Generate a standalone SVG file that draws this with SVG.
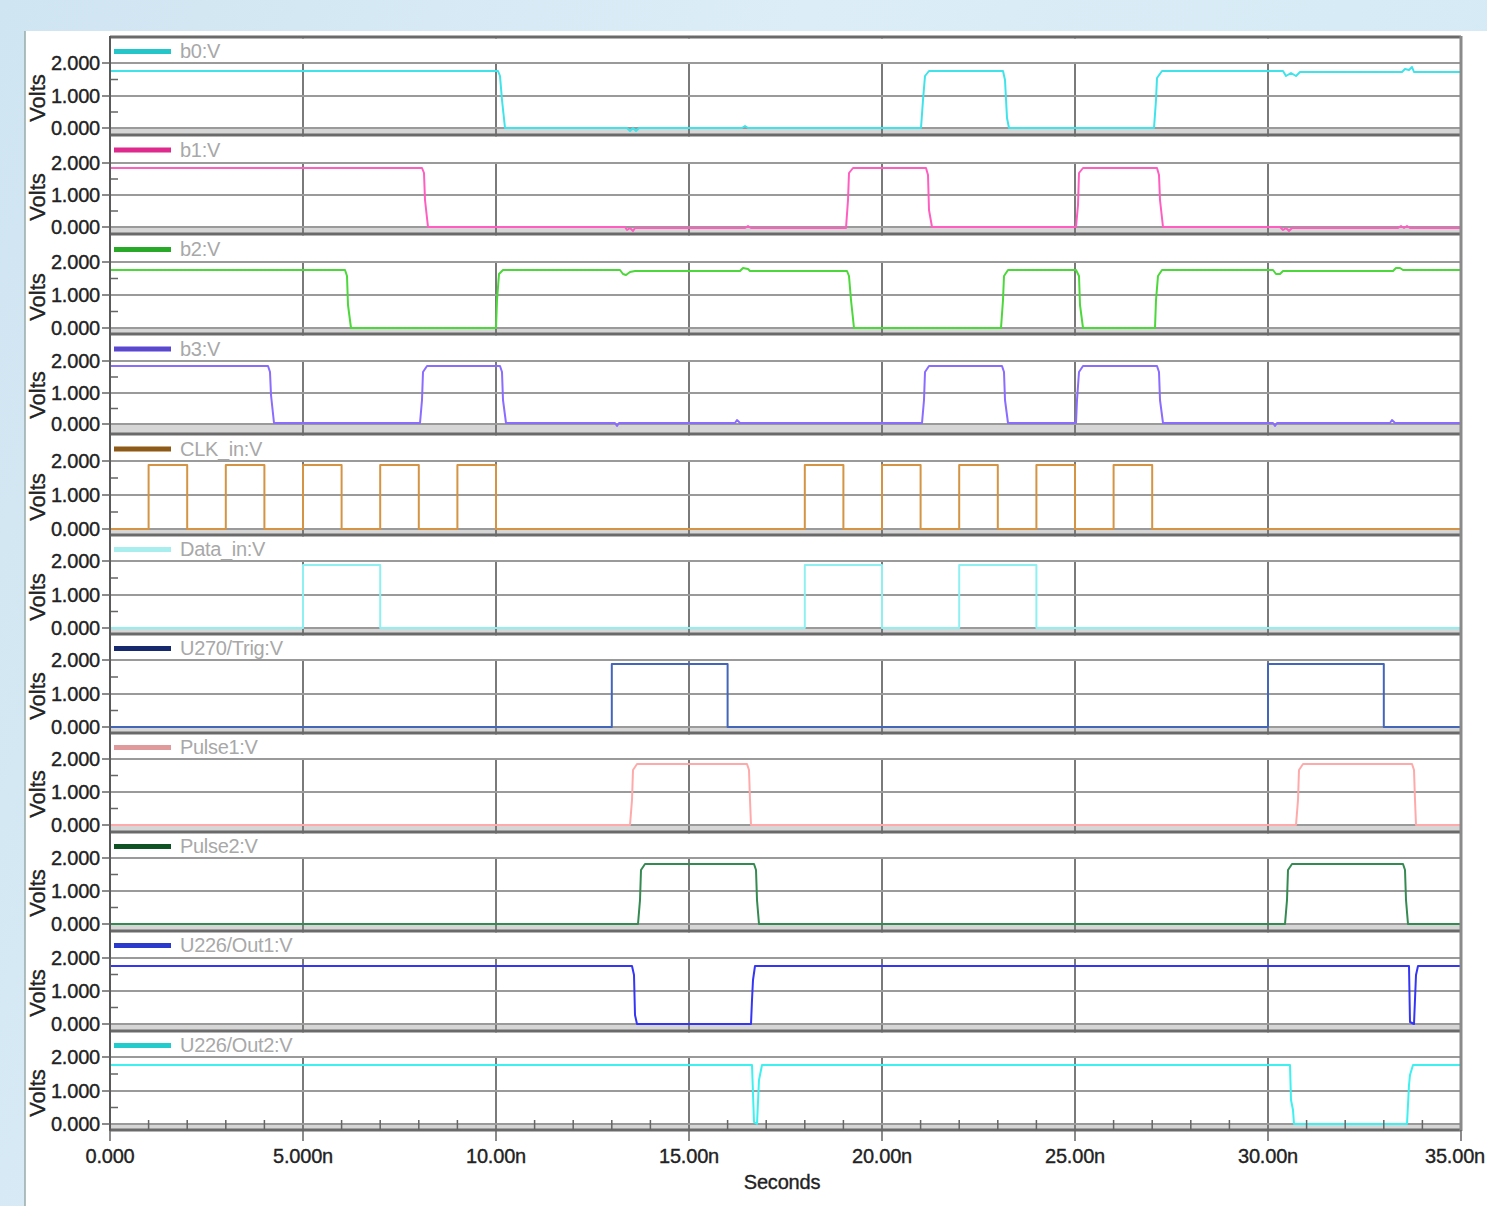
<svg xmlns="http://www.w3.org/2000/svg" width="1487" height="1206" viewBox="0 0 1487 1206">
<defs>
<linearGradient id="bg" x1="0" y1="0" x2="1" y2="0.3">
<stop offset="0" stop-color="#cfe5f1"/>
<stop offset="0.5" stop-color="#dcedf7"/>
<stop offset="1" stop-color="#d4eaf5"/>
</linearGradient>
</defs>
<style>
.grid{stroke:#9a9a9a;stroke-width:2;fill:none}
.vgrid{stroke:#7a7a7a;stroke-width:2;fill:none}
.sep{stroke:#6a6a6a;stroke-width:3;fill:none}
.band{fill:#d6d6d6}
.tick{stroke:#666;stroke-width:1.5;fill:none}
.tr{fill:none;stroke-width:2;stroke-linejoin:round}
.lg{stroke-width:5;fill:none}
.lgt{font-family:"Liberation Sans",Arial,sans-serif;font-size:20px;fill:#a8a8a8;letter-spacing:-0.3px}
.yl{font-family:"Liberation Sans",Arial,sans-serif;font-size:20px;fill:#222;stroke:#222;stroke-width:0.35px;text-anchor:end;letter-spacing:-0.2px}
.xl{font-family:"Liberation Sans",Arial,sans-serif;font-size:20px;fill:#222;stroke:#222;stroke-width:0.35px;text-anchor:middle;letter-spacing:-0.2px}
.vl{font-family:"Liberation Sans",Arial,sans-serif;font-size:22px;fill:#222;stroke:#222;stroke-width:0.35px;text-anchor:middle}
</style>
<rect x="0" y="0" width="1487" height="1206" fill="url(#bg)"/>
<rect x="25" y="31" width="1462" height="1175" fill="#ffffff"/>
<line x1="25" y1="31" x2="25" y2="1206" stroke="#9aa" stroke-width="1.5"/>

<g id="bands">
<rect class="band" x="110" y="129" width="1351" height="5"/>
<rect class="band" x="110" y="228" width="1351" height="5"/>
<rect class="band" x="110" y="329" width="1351" height="4"/>
<rect class="band" x="110" y="425" width="1351" height="8"/>
<rect class="band" x="110" y="530" width="1351" height="4"/>
<rect class="band" x="110" y="629" width="1351" height="4"/>
<rect class="band" x="110" y="728" width="1351" height="4"/>
<rect class="band" x="110" y="826" width="1351" height="5"/>
<rect class="band" x="110" y="925" width="1351" height="5"/>
<rect class="band" x="110" y="1025" width="1351" height="5"/>
<rect class="band" x="110" y="1125" width="1351" height="4"/>
</g>

<g id="vertical-grid">
<path class="vgrid" d="M303,37V1131M496,37V1131M689,37V1131M882,37V1131M1075,37V1131M1268,37V1131"/>
</g>

<g id="legend-areas" fill="#ffffff">
<rect x="111" y="38.5" width="1349" height="23.5"/>
<rect x="111" y="136.5" width="1349" height="25.5"/>
<rect x="111" y="235.5" width="1349" height="25.5"/>
<rect x="111" y="335.5" width="1349" height="24.5"/>
<rect x="111" y="435.5" width="1349" height="24.5"/>
<rect x="111" y="536.5" width="1349" height="23.5"/>
<rect x="111" y="635.5" width="1349" height="23.5"/>
<rect x="111" y="734.5" width="1349" height="23.5"/>
<rect x="111" y="833.5" width="1349" height="23.5"/>
<rect x="111" y="932.5" width="1349" height="24.5"/>
<rect x="111" y="1032.5" width="1349" height="23.5"/>
</g>

<g id="horizontal-grid">
<path class="grid" d="M110,63H1461M110,96H1461M110,128H1461
M110,163H1461M110,195H1461M110,227H1461
M110,262H1461M110,295H1461M110,328H1461
M110,361H1461M110,393H1461M110,424H1461
M110,461H1461M110,495H1461M110,529H1461
M110,561H1461M110,595H1461M110,628H1461
M110,660H1461M110,694H1461M110,727H1461
M110,759H1461M110,792H1461M110,825H1461
M110,858H1461M110,891H1461M110,924H1461
M110,958H1461M110,991H1461M110,1024H1461
M110,1057H1461M110,1091H1461M110,1124H1461"/>
</g>

<g id="traces">
<path id="b0" class="tr" stroke="#3fe3ea" d="M110,71H498L500,76L502,100L505,128H627l3,3l3,-3l3,3l3,-3H742l3,-2l3,2H921L923,100L925,76L929,71H1003L1005,80L1007,118L1009,128H1154L1156,100L1157,78L1162,71H1283l3,5l5,-3l5,3l4,-4H1402l3,-3l4,1l3,-3l2,5H1461"/>
<path id="b1" class="tr" stroke="#ff5ec0" d="M110,168H422L424,173L425,200L428,227H625l2,3l3,-2l3,3l2,-3H745l3,-2l3,2H846L848,200L849,173L853,168H926L928,175L929,210L932,227H1076L1078,205L1079,173L1083,168H1157L1159,175L1160,200L1163,227H1280l3,3l3,-2l3,3l3,-3H1398l3,-2l3,2l3,-2l3,2H1461"/>
<path id="b2" class="tr" stroke="#4cd83a" d="M110,270H345L347,276L348,305L351,328H496L497,300L499,274L503,270H620l3,4l3,1l4,-3l5,-1H740l3,-3l5,1l2,2H847L849,276L851,300L854,328H1001L1003,300L1004,276L1008,270H1076L1079,276L1080,305L1083,328H1155L1156,300L1158,276L1162,270H1273l3,4l4,0l3,-3H1393l3,-3l4,0l3,2H1461"/>
<path id="b3" class="tr" stroke="#8a6cff" d="M110,366H268L270,372L271,395L274,423H420L422,400L423,372L427,366H500L502,372L503,400L506,423H615l2,3l2,-3H735l2,-3l3,3H922L924,400L925,372L929,366H1002L1004,372L1005,400L1008,423H1076L1077,400L1079,372L1083,366H1157L1159,372L1160,400L1163,423H1273l2,3l2,-3H1390l2,-3l3,3H1461"/>
<path id="clk" class="tr" stroke="#d49444" d="M110,529H148.6V465H187.2V529H225.8V465H264.4V529H303V465H341.6V529H380.2V465H418.8V529H457.4V465H496V529H804.8V465H843.4V529H882V465H920.6V529H959.2V465H997.8V529H1036.4V465H1075V529H1113.6V465H1152.2V529H1461"/>
<path id="data" class="tr" stroke="#8ff0f2" d="M110,628H303V565H380.2V628H804.8V565H882V628H959.2V565H1036.4V628H1461"/>
<path id="trig" class="tr" stroke="#4466b8" d="M110,727H611.8V664H727.6V727H1268V664H1383.8V727H1461"/>
<path id="pulse1" class="tr" stroke="#ffaaaa" d="M110,825H630L632,800L633,770L637,764H747L749,770L750,800L751,825H1296L1298,800L1299,770L1303,764H1412L1414,770L1415,800L1416,825H1461"/>
<path id="pulse2" class="tr" stroke="#358a52" d="M110,924H638L640,900L641,870L645,864H754L756,870L757,900L759,924H1285L1287,900L1288,870L1292,864H1403L1405,870L1406,900L1408,924H1461"/>
<path id="out1" class="tr" stroke="#3535f5" d="M110,966H632L634,975L635,1015L637,1024H751L752,1000L753,980L755,966H1409L1410,1022L1414,1024L1416,975L1418,966H1461"/>
<path id="out2" class="tr" stroke="#3ef0f0" d="M110,1065H752L754,1122L757,1124L759,1080L762,1065H1290L1291,1100L1293,1110L1294,1124H1407L1409,1085L1410,1075L1413,1065H1461"/>
</g>

<g id="frame">
<path class="sep" d="M110,37H1461M110,135H1461M110,234H1461M110,334H1461M110,434H1461M110,535H1461M110,634H1461M110,733H1461M110,832H1461M110,931H1461M110,1031H1461M110,1130H1461"/>
<line x1="110" y1="36" x2="110" y2="1131" stroke="#5a5a5a" stroke-width="2"/>
<line x1="1461" y1="36" x2="1461" y2="1131" stroke="#8a8a8a" stroke-width="3"/>
<path class="tick" d="M102,63H110M102,96H110M102,128H110M102,163H110M102,195H110M102,227H110M102,262H110M102,295H110M102,328H110M102,361H110M102,393H110M102,424H110M102,461H110M102,495H110M102,529H110M102,561H110M102,595H110M102,628H110M102,660H110M102,694H110M102,727H110M102,759H110M102,792H110M102,825H110M102,858H110M102,891H110M102,924H110M102,958H110M102,991H110M102,1024H110M102,1057H110M102,1091H110M102,1124H110"/>
<path class="tick" d="M111,79.5H118M111,112H118M111,179H118M111,211H118M111,278.5H118M111,311.5H118M111,377H118M111,408.5H118M111,478H118M111,512H118M111,578H118M111,611.5H118M111,677H118M111,710.5H118M111,775.5H118M111,808.5H118M111,874.5H118M111,907.5H118M111,974.5H118M111,1007.5H118M111,1074H118M111,1107.5H118"/>
<path class="tick" d="M148.6,1120V1130M187.2,1120V1130M225.8,1120V1130M264.4,1120V1130M341.6,1120V1130M380.2,1120V1130M418.8,1120V1130M457.4,1120V1130M534.6,1120V1130M573.2,1120V1130M611.8,1120V1130M650.4,1120V1130M727.6,1120V1130M766.2,1120V1130M804.8,1120V1130M843.4,1120V1130M920.6,1120V1130M959.2,1120V1130M997.8,1120V1130M1036.4,1120V1130M1113.6,1120V1130M1152.2,1120V1130M1190.8,1120V1130M1229.4,1120V1130M1306.6,1120V1130M1345.2,1120V1130M1383.8,1120V1130M1422.4,1120V1130"/>
<path class="tick" d="M110,1130V1141M303,1130V1141M496,1130V1141M689,1130V1141M882,1130V1141M1075,1130V1141M1268,1130V1141M1461,1130V1141"/>
</g>

<g id="legends">
<line class="lg" x1="114" y1="51.5" x2="171" y2="51.5" stroke="#24c6c9"/>
<text class="lgt" x="180" y="58">b0:V</text>
<line class="lg" x1="114" y1="150" x2="171" y2="150" stroke="#dd2a8c"/>
<text class="lgt" x="180" y="157">b1:V</text>
<line class="lg" x1="114" y1="249.5" x2="171" y2="249.5" stroke="#28aa28"/>
<text class="lgt" x="180" y="256">b2:V</text>
<line class="lg" x1="114" y1="349" x2="171" y2="349" stroke="#5a48d0"/>
<text class="lgt" x="180" y="356">b3:V</text>
<line class="lg" x1="114" y1="449" x2="171" y2="449" stroke="#8e5a18"/>
<text class="lgt" x="180" y="456">CLK_in:V</text>
<line class="lg" x1="114" y1="549.5" x2="171" y2="549.5" stroke="#a8eeee"/>
<text class="lgt" x="180" y="556">Data_in:V</text>
<line class="lg" x1="114" y1="648.5" x2="171" y2="648.5" stroke="#17296e"/>
<text class="lgt" x="180" y="655">U270/Trig:V</text>
<line class="lg" x1="114" y1="747.5" x2="171" y2="747.5" stroke="#e09a9c"/>
<text class="lgt" x="180" y="754">Pulse1:V</text>
<line class="lg" x1="114" y1="846.5" x2="171" y2="846.5" stroke="#0f5224"/>
<text class="lgt" x="180" y="853">Pulse2:V</text>
<line class="lg" x1="114" y1="945.5" x2="171" y2="945.5" stroke="#2a3acc"/>
<text class="lgt" x="180" y="952">U226/Out1:V</text>
<line class="lg" x1="114" y1="1045.5" x2="171" y2="1045.5" stroke="#22cccc"/>
<text class="lgt" x="180" y="1052">U226/Out2:V</text>
</g>

<g id="y-labels">
<text class="yl" x="100" y="70">2.000</text><text class="yl" x="100" y="103">1.000</text><text class="yl" x="100" y="135">0.000</text>
<text class="yl" x="100" y="170">2.000</text><text class="yl" x="100" y="202">1.000</text><text class="yl" x="100" y="234">0.000</text>
<text class="yl" x="100" y="269">2.000</text><text class="yl" x="100" y="302">1.000</text><text class="yl" x="100" y="335">0.000</text>
<text class="yl" x="100" y="368">2.000</text><text class="yl" x="100" y="400">1.000</text><text class="yl" x="100" y="431">0.000</text>
<text class="yl" x="100" y="468">2.000</text><text class="yl" x="100" y="502">1.000</text><text class="yl" x="100" y="536">0.000</text>
<text class="yl" x="100" y="568">2.000</text><text class="yl" x="100" y="602">1.000</text><text class="yl" x="100" y="635">0.000</text>
<text class="yl" x="100" y="667">2.000</text><text class="yl" x="100" y="701">1.000</text><text class="yl" x="100" y="734">0.000</text>
<text class="yl" x="100" y="766">2.000</text><text class="yl" x="100" y="799">1.000</text><text class="yl" x="100" y="832">0.000</text>
<text class="yl" x="100" y="865">2.000</text><text class="yl" x="100" y="898">1.000</text><text class="yl" x="100" y="931">0.000</text>
<text class="yl" x="100" y="965">2.000</text><text class="yl" x="100" y="998">1.000</text><text class="yl" x="100" y="1031">0.000</text>
<text class="yl" x="100" y="1064">2.000</text><text class="yl" x="100" y="1098">1.000</text><text class="yl" x="100" y="1131">0.000</text>
<text class="vl" transform="translate(45,98) rotate(-90)">Volts</text>
<text class="vl" transform="translate(45,197) rotate(-90)">Volts</text>
<text class="vl" transform="translate(45,297) rotate(-90)">Volts</text>
<text class="vl" transform="translate(45,395) rotate(-90)">Volts</text>
<text class="vl" transform="translate(45,497) rotate(-90)">Volts</text>
<text class="vl" transform="translate(45,597) rotate(-90)">Volts</text>
<text class="vl" transform="translate(45,696) rotate(-90)">Volts</text>
<text class="vl" transform="translate(45,794) rotate(-90)">Volts</text>
<text class="vl" transform="translate(45,893) rotate(-90)">Volts</text>
<text class="vl" transform="translate(45,993) rotate(-90)">Volts</text>
<text class="vl" transform="translate(45,1093) rotate(-90)">Volts</text>
</g>

<g id="x-labels">
<text class="xl" x="110" y="1163">0.000</text>
<text class="xl" x="303" y="1163">5.000n</text>
<text class="xl" x="496" y="1163">10.00n</text>
<text class="xl" x="689" y="1163">15.00n</text>
<text class="xl" x="882" y="1163">20.00n</text>
<text class="xl" x="1075" y="1163">25.00n</text>
<text class="xl" x="1268" y="1163">30.00n</text>
<text class="xl" x="1485" y="1163" style="text-anchor:end">35.00n</text>
<text class="xl" x="782" y="1189">Seconds</text>
</g>
</svg>
